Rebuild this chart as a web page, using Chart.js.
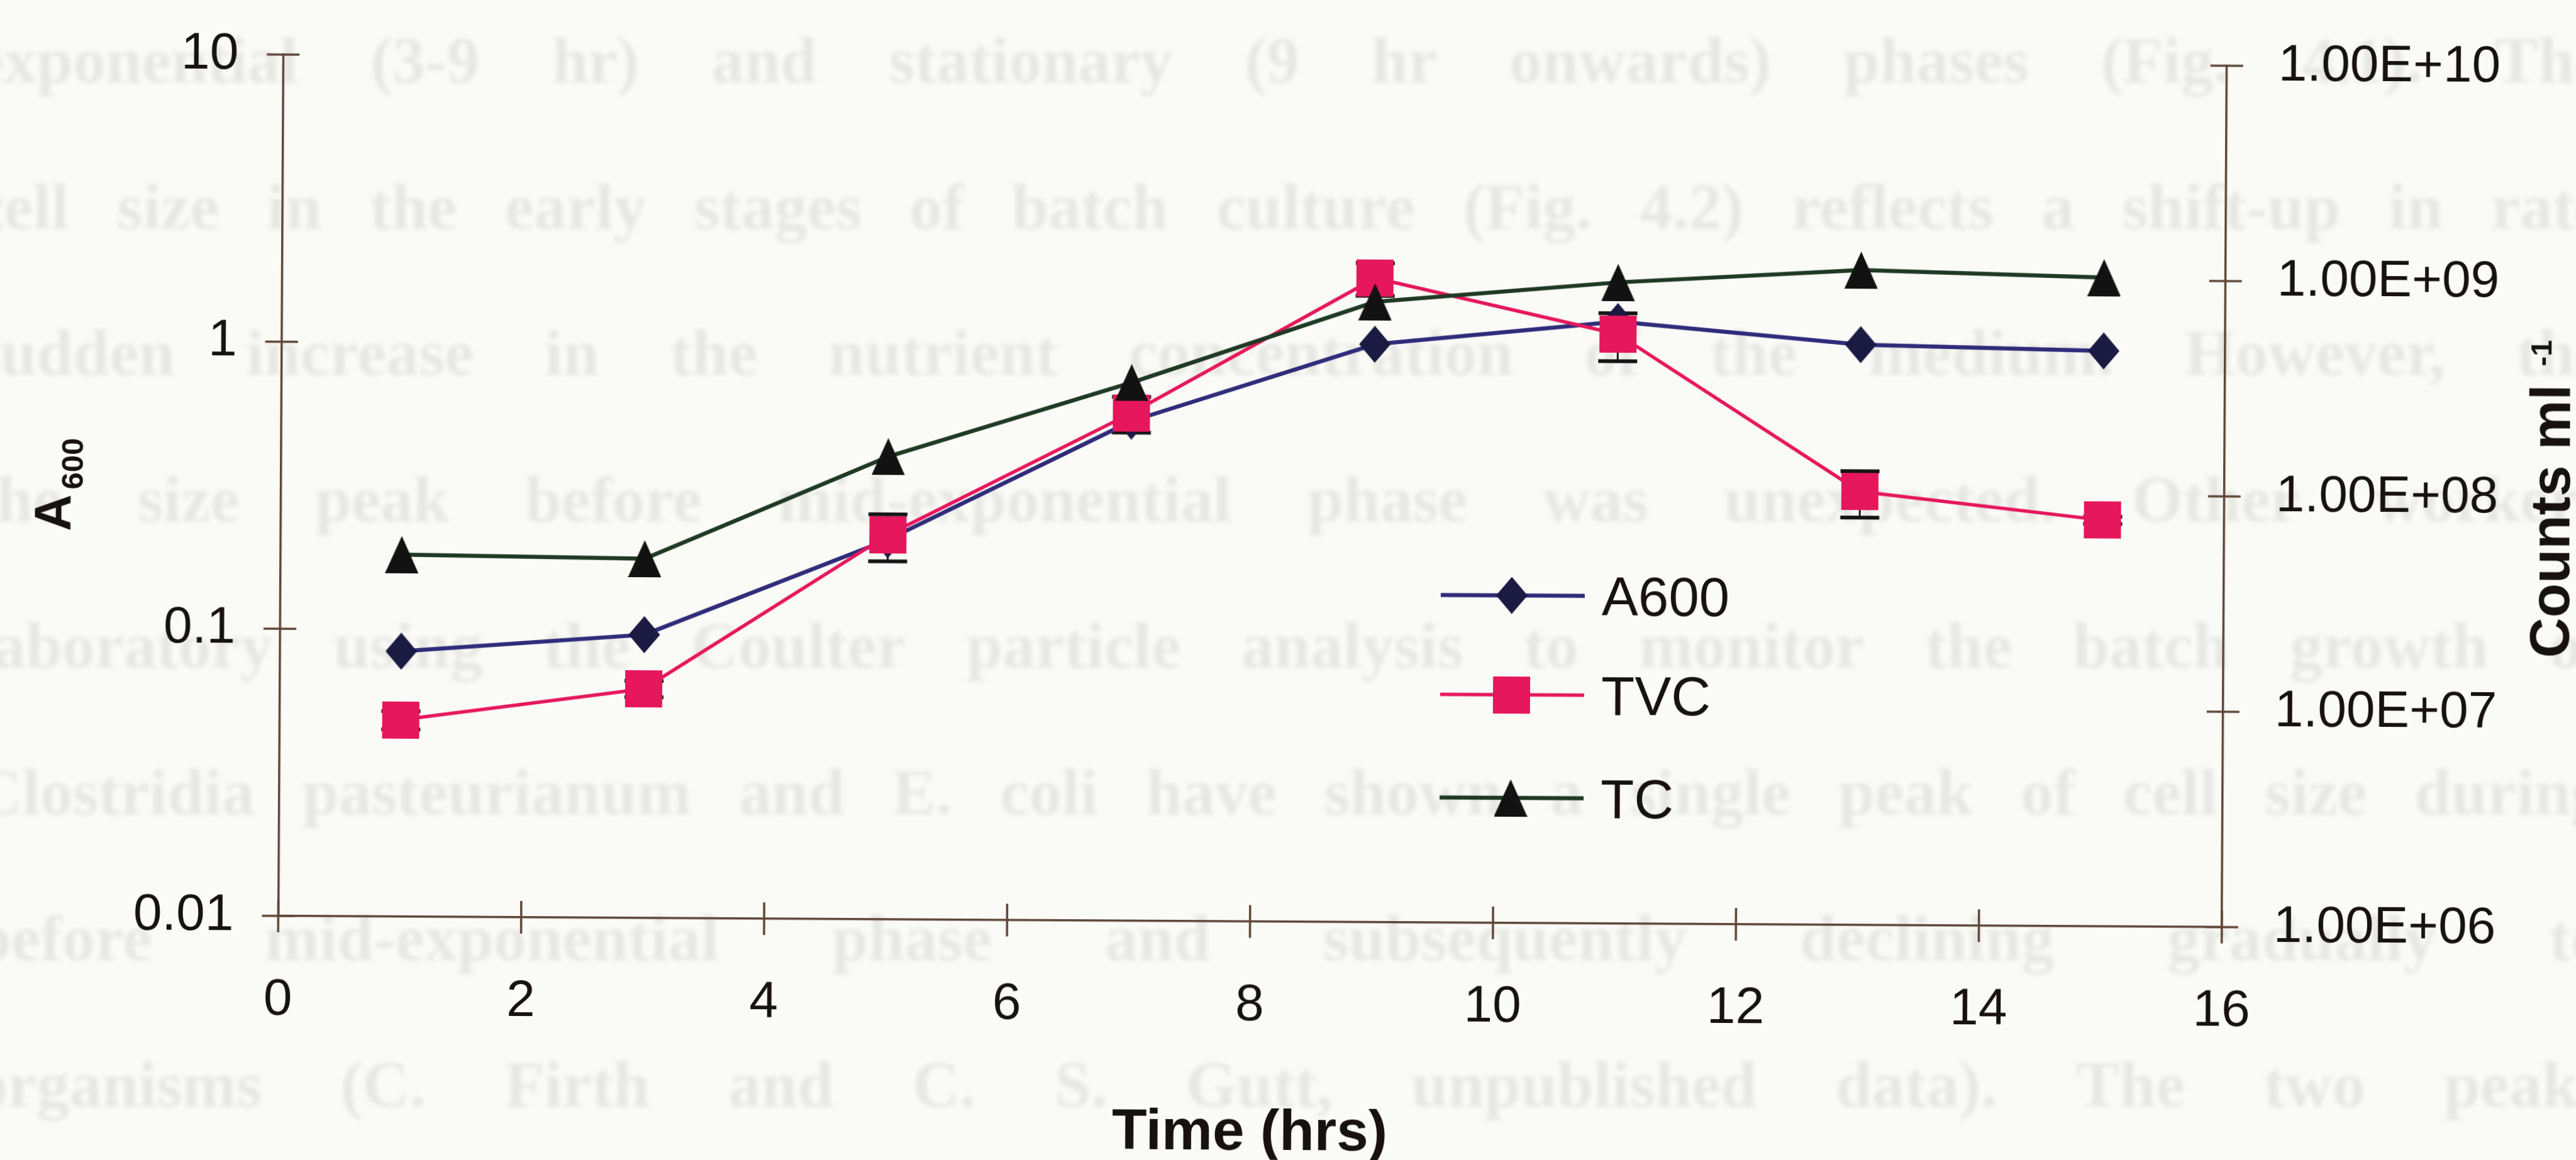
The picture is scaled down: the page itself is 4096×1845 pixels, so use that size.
<!DOCTYPE html>
<html lang="en">
<head>
<meta charset="utf-8">
<title>Batch growth: A600, TVC and TC</title>
<script src="https://cdn.jsdelivr.net/npm/chart.js@4.4.1/dist/chart.umd.min.js"></script>
<style>
    html, body { margin: 0; padding: 0; background: #fafaf7; overflow: hidden; }
    .page { position: relative; width: 4096px; height: 1845px; overflow: hidden; }
    .ghost {
        position: absolute; left: 0; top: 0; width: 4096px; height: 1845px;
        font-family: "Liberation Serif", "DejaVu Serif", serif;
        font-size: 104px; font-weight: bold; line-height: 1; color: #e7e7e3;
        filter: blur(3px);
    }
    .ghost-line {
        position: absolute; left: -40px; width: 4180px;
        display: flex; justify-content: space-between; white-space: nowrap;
    }
    .plot {
        position: absolute; left: 0; top: 0; width: 4096px; height: 1845px;
        transform: rotate(0.33deg); transform-origin: 50% 50%;
    }
    canvas { display: block; }
</style>
</head>
<body>
<div class="page">
    <div class="ghost" id="ghost"></div>
    <div class="plot"><canvas id="growthChart" width="4096" height="1845"></canvas></div>
</div>
<script>
// Sampling times (hrs)
const hours = [1, 3, 5, 7, 9, 11, 13, 15];

// A600 goes on the left axis, counts per ml on the right one
const a600 = [0.084, 0.097, 0.21, 0.55, 1.03, 1.25, 1.05, 1.01];
const tvc = [8.2e6, 1.16e7, 6.1e7, 2.28e8, 9.8e8, 5.46e8, 1.03e8, 7.7e7];
const tvcError = [8e5, 1e6, 1.5e7, 4.3e7, 1.7e8, 1.37e8, 2.5e7, 3e6];
const tc = [4.8e7, 4.66e7, 1.41e8, 3.16e8, 7.6e8, 9.5e8, 1.1e9, 1.03e9];

// Axis ticks
const xTicks = [0, 2, 4, 6, 8, 10, 12, 14, 16];
const leftTicks = [0.01, 0.1, 1, 10];
const leftTickLabels = ['0.01', '0.1', '1', '10'];
const rightTicks = [1e6, 1e7, 1e8, 1e9, 1e10];
const rightTickLabels = ['1.00E+06', '1.00E+07', '1.00E+08', '1.00E+09', '1.00E+10'];

// Legend entries
const seriesNames = ['A600', 'TVC', 'TC'];

// Text from the page underneath that shows through the scan
const ghostLines = [
    'exponential (3-9 hr) and stationary (9 hr onwards) phases (Fig. 4.1). The',
    'cell size in the early stages of batch culture (Fig. 4.2) reflects a shift-up in rate',
    'sudden increase in the nutrient concentration of the medium. However, the',
    'the size peak before mid-exponential phase was unexpected. Other workers',
    'laboratory using the Coulter particle analysis to monitor the batch growth of',
    'Clostridia pasteurianum and E. coli have shown a single peak of cell size during',
    'before mid-exponential phase and subsequently declining gradually to',
    'organisms (C. Firth and C. S. Gutt, unpublished data). The two peaks'
];

const COLORS = {
    axis: '#5e4636',
    text: '#17120f',
    a600Line: '#2f2c7a',
    a600Marker: '#1b1a42',
    tvc: '#e6175c',
    tcLine: '#1f3a24',
    tcMarker: '#121212',
    errorBar: '#141414'
};

const FONT = '"Liberation Sans", Arial, Helvetica, sans-serif';

function makeMarker(shape, w, h, color) {
    const c = document.createElement('canvas');
    c.width = w;
    c.height = h;
    const ctx = c.getContext('2d');
    ctx.fillStyle = color;
    ctx.beginPath();
    if (shape === 'diamond') {
        ctx.moveTo(w / 2, 0);
        ctx.lineTo(w, h / 2);
        ctx.lineTo(w / 2, h);
        ctx.lineTo(0, h / 2);
    } else if (shape === 'triangle') {
        ctx.moveTo(w / 2, 0);
        ctx.lineTo(w, h);
        ctx.lineTo(0, h);
    } else {
        ctx.rect(0, 0, w, h);
    }
    ctx.closePath();
    ctx.fill();
    return c;
}

// Keep tick label padding from pushing the plot area in
function fixScaleWidth(width) {
    return scale => {
        scale.width = width;
        scale.paddingTop = 0;
        scale.paddingBottom = 0;
    };
}

class GrowthCurveChart {
    constructor() {
        this.canvas = document.getElementById('growthChart');
        this.ghost = document.getElementById('ghost');
        this.markers = {
            diamond: makeMarker('diamond', 50, 59, COLORS.a600Marker),
            square: makeMarker('square', 59, 59, COLORS.tvc),
            triangle: makeMarker('triangle', 53, 59, COLORS.tcMarker)
        };

        this.renderGhostText();
        this.initializeChart();
    }

    renderGhostText() {
        ghostLines.forEach((line, i) => {
            const row = document.createElement('div');
            row.className = 'ghost-line';
            row.style.top = (44 + i * 232.7) + 'px';
            line.split(' ').forEach(word => {
                const span = document.createElement('span');
                span.textContent = word;
                row.appendChild(span);
            });
            this.ghost.appendChild(row);
        });
    }

    toPoints(values) {
        return hours.map((h, i) => ({ x: h, y: values[i] }));
    }

    // Black error bars on the TVC counts, drawn under the markers
    errorBarPlugin() {
        return {
            id: 'tvcErrorBars',
            beforeDatasetsDraw(chart) {
                const { ctx } = chart;
                const xScale = chart.scales.x;
                const yScale = chart.scales.y2;
                ctx.save();
                ctx.strokeStyle = COLORS.errorBar;
                hours.forEach((h, i) => {
                    const px = xScale.getPixelForValue(h);
                    const top = yScale.getPixelForValue(tvc[i] + tvcError[i]);
                    const bottom = yScale.getPixelForValue(tvc[i] - tvcError[i]);
                    ctx.lineWidth = 3;
                    ctx.beginPath();
                    ctx.moveTo(px, top);
                    ctx.lineTo(px, bottom);
                    ctx.stroke();
                    ctx.lineWidth = 6;
                    ctx.beginPath();
                    ctx.moveTo(px - 31, top);
                    ctx.lineTo(px + 31, top);
                    ctx.moveTo(px - 31, bottom);
                    ctx.lineTo(px + 31, bottom);
                    ctx.stroke();
                });
                ctx.restore();
            }
        };
    }

    // Tick marks that cross the axis lines
    crossTicksPlugin() {
        return {
            id: 'crossTicks',
            afterDraw(chart) {
                const { ctx, chartArea, scales } = chart;
                const half = 26;
                ctx.save();
                ctx.strokeStyle = COLORS.axis;
                ctx.lineWidth = 3.5;
                ctx.beginPath();
                xTicks.forEach(v => {
                    const px = scales.x.getPixelForValue(v);
                    ctx.moveTo(px, chartArea.bottom - half);
                    ctx.lineTo(px, chartArea.bottom + half);
                });
                leftTicks.forEach(v => {
                    const py = scales.y.getPixelForValue(v);
                    ctx.moveTo(chartArea.left - half, py);
                    ctx.lineTo(chartArea.left + half, py);
                });
                rightTicks.forEach(v => {
                    const py = scales.y2.getPixelForValue(v);
                    ctx.moveTo(chartArea.right - half, py);
                    ctx.lineTo(chartArea.right + half, py);
                });
                ctx.stroke();
                ctx.restore();
            }
        };
    }

    // Axis titles with sub- and superscripts
    titlesPlugin() {
        return {
            id: 'axisTitles',
            afterDraw(chart) {
                const { ctx } = chart;
                ctx.save();
                ctx.fillStyle = COLORS.text;
                ctx.textBaseline = 'alphabetic';
                ctx.textAlign = 'left';

                // A600 on the left
                ctx.save();
                ctx.translate(111, 856);
                ctx.rotate(-Math.PI / 2);
                ctx.font = 'bold 81px ' + FONT;
                ctx.fillText('A', 0, 0);
                const wA = ctx.measureText('A').width;
                ctx.font = 'bold 49px ' + FONT;
                ctx.fillText('600', wA + 8, 20);
                ctx.restore();

                // Counts ml-1 on the right
                ctx.save();
                ctx.translate(4085, 1035);
                ctx.rotate(-Math.PI / 2);
                ctx.font = 'bold 89px ' + FONT;
                ctx.fillText('Counts ml', 0, 0);
                const wC = ctx.measureText('Counts ml').width;
                ctx.font = 'bold 47px ' + FONT;
                ctx.fillText('-1', wC + 29, -30);
                ctx.restore();

                // Time along the bottom
                ctx.font = 'bold 91px ' + FONT;
                ctx.textAlign = 'center';
                ctx.fillText('Time (hrs)', 1992, 1829);
                ctx.restore();
            }
        };
    }

    // Legend placed inside the plot
    legendPlugin(markers) {
        return {
            id: 'insideLegend',
            afterDraw(chart) {
                const { ctx } = chart;
                const rows = [945, 1103, 1267];
                const lineColors = [COLORS.a600Line, COLORS.tvc, COLORS.tcLine];
                const lineWidths = [6.5, 5.5, 6.5];
                const marks = [markers.diamond, markers.square, markers.triangle];
                ctx.save();
                seriesNames.forEach((name, i) => {
                    const y = rows[i];
                    ctx.strokeStyle = lineColors[i];
                    ctx.lineWidth = lineWidths[i];
                    ctx.beginPath();
                    ctx.moveTo(2291, y);
                    ctx.lineTo(2520, y);
                    ctx.stroke();
                    const m = marks[i];
                    ctx.drawImage(m, 2404 - m.width / 2, y - m.height / 2);
                    ctx.fillStyle = COLORS.text;
                    ctx.font = '87px ' + FONT;
                    ctx.textAlign = 'left';
                    ctx.textBaseline = 'alphabetic';
                    ctx.fillText(name, 2547, y + 31);
                });
                ctx.restore();
            }
        };
    }

    initializeChart() {
        const tickFont = { family: FONT, size: 82, lineHeight: 1 };

        this.chart = new Chart(this.canvas, {
            type: 'line',
            data: {
                datasets: [
                    {
                        label: seriesNames[0],
                        data: this.toPoints(a600),
                        yAxisID: 'y',
                        borderColor: COLORS.a600Line,
                        borderWidth: 6.5,
                        pointStyle: this.markers.diamond,
                        pointRadius: 30,
                        order: 3
                    },
                    {
                        label: seriesNames[1],
                        data: this.toPoints(tvc),
                        yAxisID: 'y2',
                        borderColor: COLORS.tvc,
                        borderWidth: 5.5,
                        pointStyle: this.markers.square,
                        pointRadius: 30,
                        order: 2
                    },
                    {
                        label: seriesNames[2],
                        data: this.toPoints(tc),
                        yAxisID: 'y2',
                        borderColor: COLORS.tcLine,
                        borderWidth: 6.5,
                        pointStyle: this.markers.triangle,
                        pointRadius: 30,
                        order: 1
                    }
                ]
            },
            options: {
                responsive: false,
                animation: false,
                events: [],
                elements: {
                    line: { tension: 0, fill: false, borderJoinStyle: 'round', borderCapStyle: 'round' }
                },
                layout: { padding: { left: 0, right: 0, top: 96, bottom: 0 } },
                plugins: {
                    legend: { display: false },
                    tooltip: { enabled: false }
                },
                scales: {
                    x: {
                        type: 'linear',
                        position: 'bottom',
                        min: 0,
                        max: 16,
                        afterBuildTicks: scale => { scale.ticks = xTicks.map(value => ({ value })); },
                        afterFit: scale => {
                            scale.height = 379;
                            scale.paddingLeft = 0;
                            scale.paddingRight = 0;
                        },
                        grid: { display: false, drawTicks: false },
                        border: { display: true, color: COLORS.axis, width: 3.5 },
                        ticks: {
                            autoSkip: false,
                            maxRotation: 0,
                            padding: 93,
                            color: COLORS.text,
                            font: tickFont,
                            callback: value => String(value)
                        }
                    },
                    y: {
                        type: 'logarithmic',
                        position: 'left',
                        min: 0.01,
                        max: 10,
                        afterBuildTicks: scale => { scale.ticks = leftTicks.map(value => ({ value })); },
                        afterFit: fixScaleWidth(445.5),
                        grid: { display: false, drawTicks: false },
                        border: { display: true, color: COLORS.axis, width: 3.5 },
                        ticks: {
                            autoSkip: false,
                            padding: 71,
                            color: COLORS.text,
                            font: tickFont,
                            callback: (value, index) => leftTickLabels[index]
                        }
                    },
                    y2: {
                        type: 'logarithmic',
                        position: 'right',
                        min: 1e6,
                        max: 1e10,
                        afterBuildTicks: scale => { scale.ticks = rightTicks.map(value => ({ value })); },
                        afterFit: fixScaleWidth(560),
                        grid: { display: false, drawTicks: false },
                        border: { display: true, color: COLORS.axis, width: 3.5 },
                        ticks: {
                            autoSkip: false,
                            padding: 82,
                            color: COLORS.text,
                            font: tickFont,
                            callback: (value, index) => rightTickLabels[index]
                        }
                    }
                }
            },
            plugins: [
                this.errorBarPlugin(),
                this.crossTicksPlugin(),
                this.titlesPlugin(),
                this.legendPlugin(this.markers)
            ]
        });
    }
}

// Build the chart once the page is ready
document.addEventListener('DOMContentLoaded', () => {
    const growthChart = new GrowthCurveChart();
});
</script>
</body>
</html>
